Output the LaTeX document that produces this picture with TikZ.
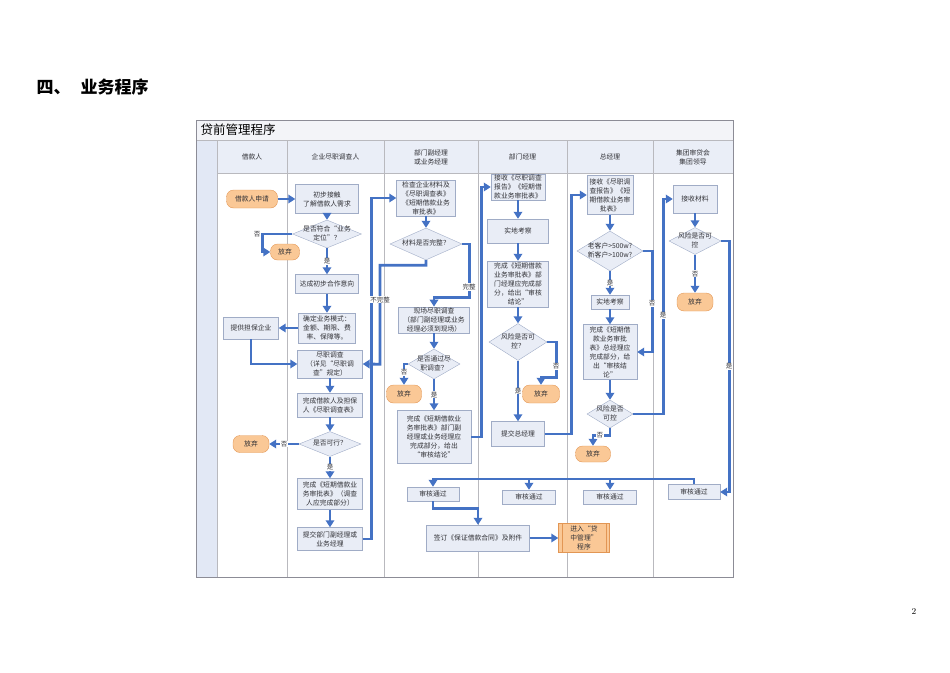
\documentclass[tikz,border=0pt]{standalone}
\usepackage{fontspec}
\newfontfamily\cjk{Noto Sans CJK SC}
\usetikzlibrary{shapes.geometric,arrows.meta}
\newcommand{\dtext}[1]{\makebox[0pt]{\smash{\raisebox{-1.5pt}{\begin{tabular}{@{}c@{}}#1\end{tabular}}}}}

\begin{document}
\begin{tikzpicture}[x=1pt,y=-1pt,
  box/.style={shape=rectangle,draw=boxline,fill=boxfill,inner sep=1pt,align=center,text=boxtext,font=\cjk\fontsize{6.8}{9}\selectfont},
  term/.style={shape=rectangle,rounded corners=7pt,draw=termline,fill=termfill,inner sep=1pt,text=boxtext,font=\cjk\fontsize{6.8}{9}\selectfont},
  decide/.style={shape=diamond,draw=boxline,fill=boxfill,inner sep=0pt,text=boxtext,font=\cjk\fontsize{6.8}{9}\selectfont},
  flow/.style={draw=flowblue,line width=2.8pt,-{Triangle[width=8.5pt,length=7pt]}},
  yn/.style={fill=white,inner sep=0.6pt,text=boxtext,font=\cjk\fontsize{6.5}{7}\selectfont},
  lane/.style={draw=laneline,line width=0.6pt},
  hdr/.style={align=center,text=boxtext,font=\cjk\fontsize{6.8}{9}\selectfont}]
\definecolor{boxfill}{RGB}{233,237,246}
\definecolor{boxline}{RGB}{160,172,198}
\definecolor{boxtext}{RGB}{50,50,55}
\definecolor{termfill}{RGB}{250,200,150}
\definecolor{termline}{RGB}{226,150,84}
\definecolor{flowblue}{RGB}{68,114,196}
\definecolor{laneline}{RGB}{185,185,190}
\definecolor{hdrfill}{RGB}{234,238,247}
\definecolor{stripfill}{RGB}{226,232,245}
\definecolor{titlefill}{RGB}{243,244,248}
\definecolor{frameline}{RGB}{140,140,150}

\useasboundingbox (0,0) rectangle (950,672);

% page heading and number
\node[anchor=west,font=\cjk\bfseries\fontsize{17}{19}\selectfont] (pagehead) at (33,87) {四、\hspace{10pt}业务程序};
\node[font=\fontsize{9}{10}\selectfont] (pagenum) at (914,611) {2};

% frame, title bar, header row
\fill[titlefill] (196,120) rectangle (733,140);
\fill[hdrfill] (217,140) rectangle (733,173);
\fill[stripfill] (196,140) rectangle (217,577);
\draw[lane] (196,140) to (733,140);
\draw[lane] (217,173) to (733,173);
\draw[lane] (217,140) to (217,577);
\draw[lane] (287,140) to (287,577);
\draw[lane] (384,140) to (384,577);
\draw[lane] (478,140) to (478,577);
\draw[lane] (567,140) to (567,577);
\draw[lane] (653,140) to (653,577);
\draw[frameline,line width=0.7pt] (196,120) rectangle (733,577);
\node[anchor=west,font=\cjk\fontsize{12.5}{14}\selectfont] (charttitle) at (197,130) {贷前管理程序};

\node[hdr] (hdrA) at (252,157) {借款人};
\node[hdr] (hdrB) at (335.5,157) {企业尽职调查人};
\node[hdr] (hdrC) at (431,157) {部门副经理\\或业务经理};
\node[hdr] (hdrD) at (522.5,157) {部门经理};
\node[hdr] (hdrE) at (610,157) {总经理};
\node[hdr] (hdrF) at (693,157) {集团审贷会\\集团领导};

% borrower lane
\node[term,minimum width=51,minimum height=18] (apply) at (252,199) {借款人申请};
\node[term,minimum width=29,minimum height=16] (quitA) at (285,252) {放弃};
\node[box,minimum width=55,minimum height=22] (guar) at (251,328) {提供担保企业};
\node[term,minimum width=36,minimum height=17] (quitB) at (251,444) {放弃};

% investigator lane
\node[box,minimum width=63,minimum height=29] (contact) at (327,199) {初步接触\\了解借款人需求};
\node[decide,minimum width=69,minimum height=28] (fitq) at (327,234) {\dtext{是否符合“业务\\定位”？}};
\node[box,minimum width=63,minimum height=19] (agree) at (327,284) {达成初步合作意向};
\node[box,minimum width=57,minimum height=30] (mode) at (327,328) {确定业务模式：\\金额、期限、费\\率、保障等。};
\node[box,minimum width=65,minimum height=28] (dd) at (330,364) {尽职调查\\（详见“尽职调\\查”规定）};
\node[box,minimum width=65,minimum height=24] (ddform) at (330,405) {完成借款人及担保\\人《尽职调查表》};
\node[decide,minimum width=62,minimum height=25] (feasq) at (330,444) {\dtext{是否可行？}};
\node[box,minimum width=65,minimum height=31] (apprA) at (330,494) {完成《短期借款业\\务审批表》（调查\\人应完成部分）};
\node[box,minimum width=65,minimum height=23] (submitA) at (330,539) {提交部门副经理或\\业务经理};

% deputy manager lane
\node[box,minimum width=59,minimum height=36] (check) at (426,198) {检查企业材料及\\《尽职调查表》\\《短期借款业务\\审批表》};
\node[decide,minimum width=72,minimum height=32] (fullq) at (426,244) {\dtext{材料是否完整？}};
\node[box,minimum width=71,minimum height=26] (site) at (434,320) {现场尽职调查\\（部门副经理或业务\\经理必须到现场）};
\node[decide,minimum width=52,minimum height=30] (passq) at (434,364) {\dtext{是否通过尽\\职调查？}};
\node[term,minimum width=35,minimum height=18] (quitC) at (404,394) {放弃};
\node[box,minimum width=74,minimum height=53] (apprB) at (434,437) {完成《短期借款业\\务审批表》部门副\\经理或业务经理应\\完成部分，给出\\“审核结论”};

% department manager lane
\node[box,minimum width=54,minimum height=23] (recvA) at (518,187) {接收《尽职调查\\报告》《短期借\\款业务审批表》};
\node[box,minimum width=61,minimum height=24] (siteA) at (518,231) {实地考察};
\node[box,minimum width=61,minimum height=46] (apprC) at (518,284) {完成《短期借款\\业务审批表》部\\门经理应完成部\\分，给出“审核\\结论”};
\node[decide,minimum width=58,minimum height=37] (riskA) at (518,342) {\dtext{风险是否可\\控？}};
\node[term,minimum width=37,minimum height=18] (quitD) at (541,394) {放弃};
\node[box,minimum width=53,minimum height=25] (toGM) at (518,434) {提交总经理};

% general manager lane
\node[box,minimum width=46,minimum height=39] (recvB) at (610,195) {接收《尽职调\\查报告》《短\\期借款业务审\\批表》};
\node[decide,minimum width=66,minimum height=40] (sizeq) at (610,251) {\dtext{老客户>500w?\\新客户>100w?}};
\node[box,minimum width=38,minimum height=14] (siteB) at (610,302) {实地考察};
\node[box,minimum width=54,minimum height=55] (apprD) at (610,352) {完成《短期借\\款业务审批\\表》总经理应\\完成部分，给\\出“审核结\\论”};
\node[decide,minimum width=46,minimum height=28] (riskB) at (610,414) {\dtext{风险是否\\可控}};
\node[term,minimum width=35,minimum height=16] (quitE) at (593,454) {放弃};

% group committee lane
\node[box,minimum width=44,minimum height=28] (recvC) at (695,199) {接收材料};
\node[decide,minimum width=52,minimum height=27] (riskC) at (695,241) {\dtext{风险是否可\\控}};
\node[term,minimum width=36,minimum height=18] (quitF) at (695,302) {放弃};

% approvals, contract
\node[box,minimum width=52,minimum height=14] (okA) at (433,494) {审核通过};
\node[box,minimum width=53,minimum height=14] (okB) at (529,497) {审核通过};
\node[box,minimum width=53,minimum height=14] (okC) at (610,497) {审核通过};
\node[box,minimum width=52,minimum height=15] (okD) at (694,492) {审核通过};
\node[box,minimum width=103,minimum height=26] (sign) at (478,538) {签订《保证借款合同》及附件};
\node[box,draw=termline,fill=termfill,minimum width=51,minimum height=29] (next) at (584,538) {进入“贷\\中管理”\\程序};
\draw[termline] ([xshift=4pt]next.north west) to ([xshift=4pt]next.south west);
\draw[termline] ([xshift=-4pt]next.north east) to ([xshift=-4pt]next.south east);

\coordinate (bus) at (433,479);

% connectors
\draw[flow] (apply) to (contact);
\draw[flow] (contact) to (fitq);
\draw[flow] (fitq.west) -- ++(-30,0) node[yn,left] (noA) {否} |- (quitA.west);
\draw[flow] (fitq.south) -- node[yn] (yesA) {是} (agree.north);
\draw[flow] (agree) to (mode);
\draw[flow] (mode.west) to (guar.east);
\draw[flow] (guar.south) |- (dd.west);
\draw[flow] (dd) to (ddform);
\draw[flow] (ddform) to (feasq);
\draw[flow] (feasq.west) -- node[yn] (noB) {否} (quitB.east);
\draw[flow] (feasq.south) -- node[yn] (yesB) {是} (apprA.north);
\draw[flow] (apprA) to (submitA);
\draw[flow] (submitA.east) -- ++(9,0) |- (check.west);

\draw[flow] (check) to (fullq);
\draw[flow] (fullq.east) -- ++(7,0) |- node[yn,pos=0.4] (fullA) {完整} ([yshift=9pt]site.north) -- (site.north);
\draw[flow] (fullq.south) -- ++(0,5) -- ++(-46,0) -- node[yn,pos=0.35] (partA) {不完整} ++(0,99) -- (dd.east);
\draw[flow] (site) to (passq);
\draw[flow] (passq.west) -| node[yn,pos=0.7] (noC) {否} (quitC.north);
\draw[flow] (passq.south) -- node[yn] (yesC) {是} (apprB.north);
\draw[flow] (apprB.east) -- ++(10,0) |- (recvA.west);

\draw[flow] (recvA) to (siteA);
\draw[flow] (siteA) to (apprC);
\draw[flow] (apprC) to (riskA);
\draw[flow] (riskA.east) -- ++(9,0) |- node[yn,pos=0.34] (noD) {否} ([yshift=7pt]quitD.north) -- (quitD.north);
\draw[flow] (riskA.south) -- node[yn] (yesD) {是} (toGM.north);
\draw[flow] (toGM.east) -- ++(27,0) |- (recvB.west);

\draw[flow] (recvB) to (sizeq);
\draw[flow] (sizeq.south) -- node[yn] (yesE) {是} (siteB.north);
\draw[flow] (sizeq.east) -- ++(9,0) |- node[yn,pos=0.26] (noE) {否} (apprD.east);
\draw[flow] (siteB) to (apprD);
\draw[flow] (apprD) to (riskB);
\draw[flow] (riskB.south) -- ++(0,7) -| node[yn,pos=0.3] (noF) {否} (quitE.north);
\draw[flow] (riskB.east) -- ++(30,0) |- node[yn,pos=0.23] (yesF) {是} (recvC.west);

\draw[flow] (recvC) to (riskC);
\draw[flow] (riskC.south) -- node[yn] (noG) {否} (quitF.north);
\draw[flow] (riskC.east) -- ++(8,0) |- node[yn,pos=0.25] (yesG) {是} (okD.east);

\draw[flow] (okD.north) |- (bus) to (okA.north);
\draw[flow] (okB.north |- bus) to (okB.north);
\draw[flow] (okC.north |- bus) to (okC.north);
\draw[flow] (okA.south) -- ++(0,7) -| (sign.north);
\draw[flow] (sign.east) to (next.west);
\end{tikzpicture}
\end{document}
